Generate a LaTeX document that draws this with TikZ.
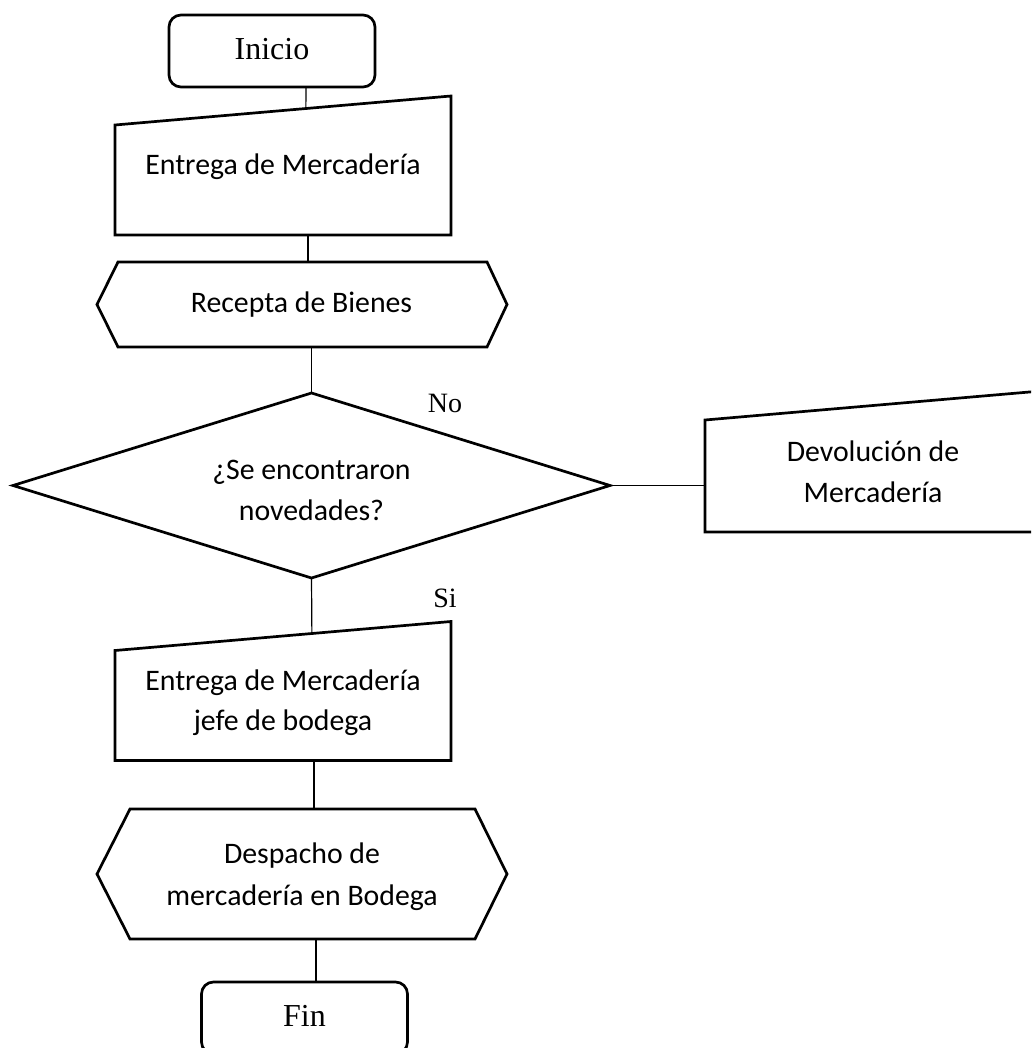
\documentclass[tikz,border=0pt]{standalone}
\usepackage{fontspec}
\setmainfont{Liberation Serif}
\newfontfamily\bodyfont{Carlito}
\usetikzlibrary{shapes.geometric,calc}

\begin{document}
\begin{tikzpicture}[x=1pt,y=-1pt,
  outline/.style={line width=2.7pt, line join=miter},
  link/.style={line width=1.2pt},
  frame/.style={rectangle, draw=none, inner sep=0pt, outer sep=0pt},
  term/.style={rectangle, draw, line width=2.7pt, rounded corners=12pt,
    inner sep=0pt, outer sep=0pt, minimum width=206pt, minimum height=72pt,
    text height=17pt, text depth=0pt, font=\fontsize{32}{38}\selectfont},
  decision/.style={diamond, draw, outline, inner sep=0pt, outer sep=0pt,
    minimum width=597pt, minimum height=185pt},
  txt/.style={anchor=base, inner sep=0pt, font=\bodyfont\fontsize{29.8}{41}\selectfont},
  answer/.style={anchor=base, inner sep=0pt, font=\fontsize{28}{33}\selectfont},
]
\useasboundingbox (0,0) rectangle (1031,1048);
\clip (0,0) rectangle (1031,1048);

% start
\node[term] (inicio) at (272,51) {Inicio};

% manual input: delivery of goods
\node[frame, minimum width=336pt, minimum height=139pt] (m1) at (283,165.5) {};
\draw[outline] ($(m1.north west)+(0,29)$) -- (m1.north east) -- (m1.south east)
  -- (m1.south west) -- cycle;
\node[txt] (t-m1) at (283,175) {Entrega de Mercadería};
\coordinate (m1-in) at ($($(m1.north west)+(0,29)$)!0.568!(m1.north east)$);

% preparation: receipt of goods
\node[frame, minimum width=410pt, minimum height=85pt] (h1) at (302,304.5) {};
\draw[outline] ($(h1.north west)+(21,0)$) -- ($(h1.north east)+(-20,0)$) -- (h1.east)
  -- ($(h1.south east)+(-20,0)$) -- ($(h1.south west)+(21,0)$) -- (h1.west) -- cycle;
\node[txt] (t-h1) at (301.5,312) {Recepta de Bienes};

% decision
\node[decision] (diam) at (311.5,485.5) {};
\node[txt] (t-d1) at (311.5,479) {¿Se encontraron};
\node[txt] (t-d2) at (311.5,520) {novedades?};
\node[answer] (no) at (445,412) {No};
\node[answer] (si) at (445,607) {Si};

% manual input: return of goods
\node[frame, minimum width=336pt, minimum height=141pt] (dev) at (873,461.5) {};
\draw[outline] ($(dev.north west)+(0,29)$) -- (dev.north east) -- (dev.south east)
  -- (dev.south west) -- cycle;
\node[txt] (t-dev1) at (873,461) {Devolución de};
\node[txt] (t-dev2) at (873,502) {Mercadería};

% manual input: handover to warehouse head
\node[frame, minimum width=336pt, minimum height=139pt] (m2) at (283,691) {};
\draw[outline] ($(m2.north west)+(0,29)$) -- (m2.north east) -- (m2.south east)
  -- (m2.south west) -- cycle;
\node[txt] (t-m2a) at (283,690) {Entrega de Mercadería};
\node[txt] (t-m2b) at (283,730) {jefe de bodega};
\coordinate (m2-in) at ($($(m2.north west)+(0,29)$)!0.586!(m2.north east)$);

% preparation: dispatch
\node[frame, minimum width=410pt, minimum height=130pt] (h2) at (302,874) {};
\draw[outline] ($(h2.north west)+(33,0)$) -- ($(h2.north east)+(-32,0)$) -- (h2.east)
  -- ($(h2.south east)+(-32,0)$) -- ($(h2.south west)+(33,0)$) -- (h2.west) -- cycle;
\node[txt] (t-h2a) at (302,863) {Despacho de};
\node[txt] (t-h2b) at (302,905) {mercadería en Bodega};

% end
\node[term] (fin) at (304.5,1018) {Fin};

% connectors
\draw[link] ([xshift=34pt]inicio.south) -- (m1-in);
\draw[link] ([xshift=25pt]m1.south) -- ([xshift=6pt]h1.north);
\draw[link] (h1.south -| diam.north) -- (diam.north);
\draw[link] (diam.east) -- (diam.east -| dev.west);
\draw[link] (diam.south) -- (m2-in);
\draw[link] ([xshift=31pt]m2.south) -- ([xshift=12pt]h2.north);
\draw[link] ([xshift=14pt]h2.south) -- ([xshift=11.5pt]fin.north);
\end{tikzpicture}
\end{document}
